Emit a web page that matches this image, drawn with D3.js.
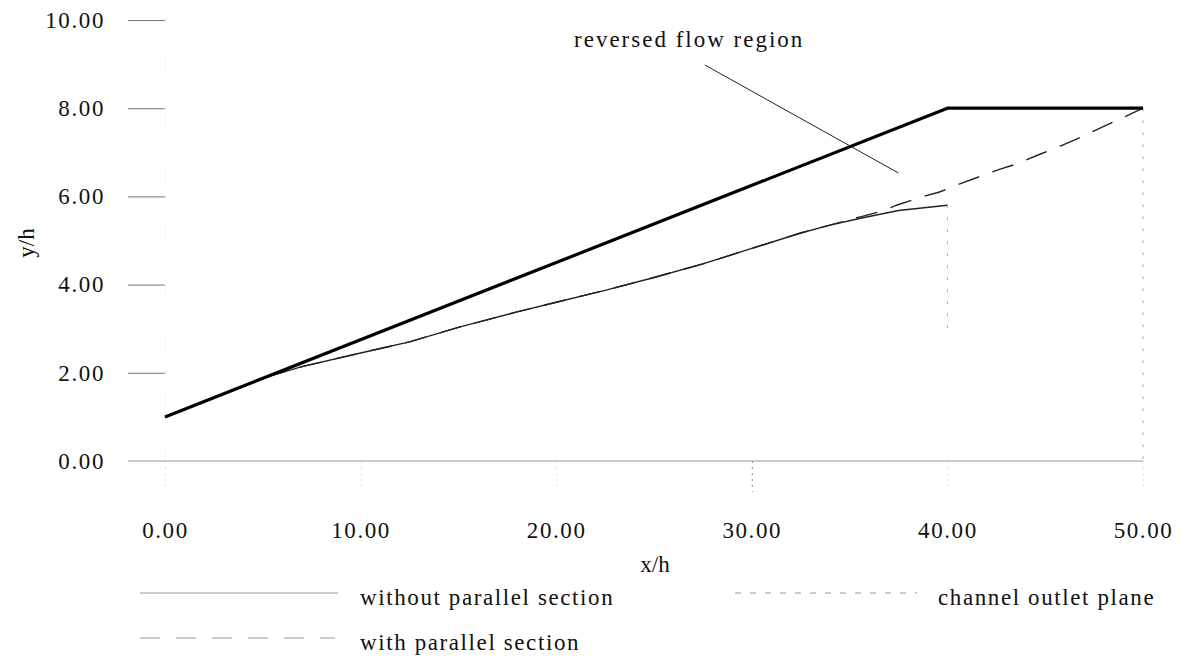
<!DOCTYPE html>
<html>
<head>
<meta charset="utf-8">
<script src="https://cdn.jsdelivr.net/npm/d3@7"></script>
<style>
  html, body { margin: 0; padding: 0; background: #fff; }
  svg { display: block; }
  text { font-family: "Liberation Serif", "Times New Roman", serif; fill: #111; }
</style>
</head>
<body>
<svg id="chart" width="1193" height="658"></svg>
<script>
// ---- data ----
const xTicks = [0, 10, 20, 30, 40, 50];
const yTicks = [0, 2, 4, 6, 8, 10];

// diffuser wall (thick line)
const wallX = [0, 40, 50];
const wallY = [1.0, 8.0, 8.0];

// reversed flow boundary, without parallel section
const noParX = [0, 2, 4, 5, 7, 10, 12.5, 15, 18, 20, 22.5, 25, 27.5, 30, 32.5, 34, 35.5, 37.5, 40];
const noParY = [1.0, 1.35, 1.70, 1.88, 2.14, 2.45, 2.70, 3.03, 3.38, 3.60, 3.87, 4.16, 4.47, 4.82, 5.17, 5.35, 5.50, 5.68, 5.80];

// reversed flow boundary, with parallel section
const withParX = [0, 2, 4, 5, 7, 10, 12.5, 15, 18, 20, 22.5, 25, 27.5, 30, 32.5, 34, 35.5, 36.7, 37.4, 38.7, 39.6, 40.6, 42.7, 43.5, 44.7, 45.4, 46.6, 48.7, 50];
const withParY = [1.0, 1.35, 1.70, 1.88, 2.14, 2.45, 2.70, 3.03, 3.38, 3.60, 3.87, 4.16, 4.47, 4.82, 5.17, 5.35, 5.53, 5.67, 5.80, 5.99, 6.10, 6.28, 6.62, 6.73, 6.95, 7.07, 7.30, 7.73, 8.0];

// channel outlet planes (vertical)
const outletX = [40, 50];
const outletTop = [5.8, 8.0];
const outletBottom = [3.0, 0.0];

// annotation
const annoText = "reversed flow region";
const annoTextPos = [26.8, 9.39];
const annoLine = [[27.6, 8.98], [37.5, 6.53]];

const legendLabels = ["without parallel section", "channel outlet plane", "with parallel section"];

// ---- chart ----
const svg = d3.select("#chart");
const x = d3.scaleLinear().domain([0, 50]).range([165, 1143]);
const y = d3.scaleLinear().domain([0, 10]).range([461, 20]);

const FS = 23, LS = 1.6;

// y axis
const yAxis = svg.append("g").attr("transform", `translate(${x(0)},0)`)
  .call(d3.axisLeft(y).tickValues(yTicks).tickSize(37).tickPadding(23).tickFormat(d3.format(".2f")));
yAxis.select(".domain").attr("stroke", "#ececec").attr("stroke-dasharray", "2,5");
yAxis.selectAll(".tick line").attr("stroke", "#777").attr("stroke-width", 1);
yAxis.selectAll(".tick text").attr("font-size", FS).attr("letter-spacing", LS)
  .attr("font-family", "Liberation Serif").attr("fill", "#111");
yAxis.selectAll(".tick").filter(d => d === 0).select("line").remove();

// x axis
const xAxis = svg.append("g").attr("transform", `translate(0,${y(0)})`)
  .call(d3.axisBottom(x).tickValues(xTicks).tickSize(31).tickPadding(30).tickFormat(d3.format(".2f")));
xAxis.select(".domain").remove();
xAxis.selectAll(".tick line").attr("stroke", "#e0e0e0").attr("stroke-dasharray", "2,4");
xAxis.selectAll(".tick").filter(d => d === 30).select("line").attr("stroke", "#888");
xAxis.selectAll(".tick text").attr("font-size", FS).attr("letter-spacing", LS)
  .attr("font-family", "Liberation Serif").attr("fill", "#111");

// zero baseline extended to the left like the reference
svg.append("line")
  .attr("x1", x(0) - 37).attr("x2", x(50))
  .attr("y1", y(0)).attr("y2", y(0))
  .attr("stroke", "#999").attr("stroke-width", 1);

// axis titles
svg.append("text").attr("x", 655).attr("y", 572).attr("text-anchor", "middle")
  .attr("font-size", FS).text("x/h");
svg.append("text").attr("transform", "translate(34,243) rotate(-90)").attr("text-anchor", "middle")
  .attr("font-size", FS).text("y/h");

const line = d3.line().x(d => x(d[0])).y(d => y(d[1]));

// outlet planes
outletX.forEach((ox, i) => {
  svg.append("line")
    .attr("x1", x(ox)).attr("x2", x(ox))
    .attr("y1", y(outletTop[i])).attr("y2", y(outletBottom[i]))
    .attr("stroke", "#aaa").attr("stroke-width", 1).attr("stroke-dasharray", "3,9");
});

// without parallel section
svg.append("path").datum(noParX.map((v, i) => [v, noParY[i]]))
  .attr("d", line).attr("fill", "none").attr("stroke", "#222").attr("stroke-width", 1.4);

// with parallel section
svg.append("path").datum(withParX.map((v, i) => [v, withParY[i]]))
  .attr("d", line).attr("fill", "none").attr("stroke", "#222").attr("stroke-width", 1.4)
  .attr("stroke-dasharray", "22,14");

// wall
svg.append("path").datum(wallX.map((v, i) => [v, wallY[i]]))
  .attr("d", line).attr("fill", "none").attr("stroke", "#000").attr("stroke-width", 3.2)
  .attr("stroke-linejoin", "round");

// annotation
svg.append("line")
  .attr("x1", x(annoLine[0][0])).attr("y1", y(annoLine[0][1]))
  .attr("x2", x(annoLine[1][0])).attr("y2", y(annoLine[1][1]))
  .attr("stroke", "#222").attr("stroke-width", 1);
svg.append("text").attr("x", x(annoTextPos[0])).attr("y", y(annoTextPos[1]))
  .attr("text-anchor", "middle").attr("font-size", FS).attr("letter-spacing", 2).text(annoText);

// legend
const legend = [
  { x1: 140, x2: 338, ly: 593, tx: 360, ty: 605, dash: null, color: "#999", label: legendLabels[0] },
  { x1: 735, x2: 917, ly: 593, tx: 938, ty: 605, dash: "6,9", color: "#999", label: legendLabels[1] },
  { x1: 140, x2: 335, ly: 638, tx: 360, ty: 650, dash: "20,16", color: "#999", label: legendLabels[2] }
];
legend.forEach(l => {
  const ln = svg.append("line").attr("x1", l.x1).attr("x2", l.x2).attr("y1", l.ly).attr("y2", l.ly)
    .attr("stroke", l.color).attr("stroke-width", 1);
  if (l.dash) ln.attr("stroke-dasharray", l.dash);
  svg.append("text").attr("x", l.tx).attr("y", l.ty).attr("font-size", FS).attr("letter-spacing", LS).text(l.label);
});
</script>
</body>
</html>
